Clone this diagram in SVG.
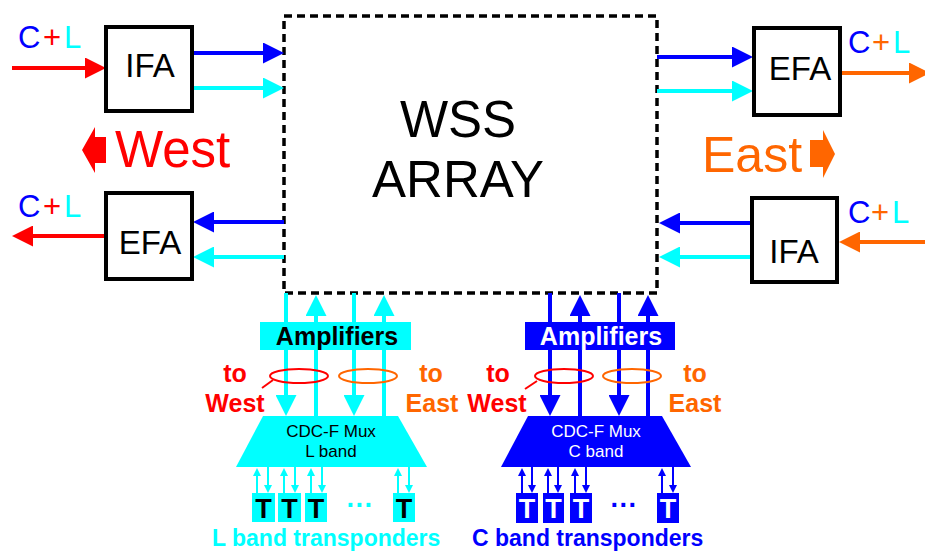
<svg xmlns="http://www.w3.org/2000/svg" width="925" height="552" viewBox="0 0 925 552">
<style>
text{font-family:"Liberation Sans",Arial,sans-serif}
.box{fill:#fff;stroke:#000;stroke-width:4}
.lbl{font-size:33px;fill:#000;text-anchor:middle}
.cl{font-size:31px}
.b{fill:#0000FF}.c{fill:#00FFFF}.r{fill:#FF0000}.o{fill:#FF6600}
.ln{stroke-width:4;fill:none}
.sm{stroke-width:2;fill:none}
.sb{stroke:#0000FF}.sc{stroke:#00FFFF}.sr{stroke:#FF0000}.so{stroke:#FF6600}
.bold{font-weight:bold}
.tt{font-size:25px;font-weight:bold;text-anchor:middle}
.tx{font-size:27px;font-weight:bold;text-anchor:middle}
.mux{font-size:17px;text-anchor:middle}
.el{fill:none;stroke-width:2}
</style>
<defs>
<marker id="ab" viewBox="0 0 21 21" refX="2" refY="10.5" markerWidth="21" markerHeight="21" markerUnits="userSpaceOnUse" orient="auto"><path d="M0,0 L21,10.5 L0,21 z" fill="#0000FF"/></marker>
<marker id="ac" viewBox="0 0 21 21" refX="2" refY="10.5" markerWidth="21" markerHeight="21" markerUnits="userSpaceOnUse" orient="auto"><path d="M0,0 L21,10.5 L0,21 z" fill="#00FFFF"/></marker>
<marker id="ar" viewBox="0 0 21 21" refX="2" refY="10.5" markerWidth="21" markerHeight="21" markerUnits="userSpaceOnUse" orient="auto"><path d="M0,0 L21,10.5 L0,21 z" fill="#FF0000"/></marker>
<marker id="ao" viewBox="0 0 21 21" refX="2" refY="10.5" markerWidth="21" markerHeight="21" markerUnits="userSpaceOnUse" orient="auto"><path d="M0,0 L21,10.5 L0,21 z" fill="#FF6600"/></marker>
<marker id="sb" viewBox="0 0 8 8" refX="1" refY="4" markerWidth="8" markerHeight="8" markerUnits="userSpaceOnUse" orient="auto"><path d="M0,0 L8,4 L0,8 z" fill="#0000FF"/></marker>
<marker id="sc" viewBox="0 0 8 8" refX="1" refY="4" markerWidth="8" markerHeight="8" markerUnits="userSpaceOnUse" orient="auto"><path d="M0,0 L8,4 L0,8 z" fill="#00FFFF"/></marker>
</defs>

<g id="wss">
<rect x="284" y="16" width="373" height="277" fill="#fff" stroke="#000" stroke-width="3.5" stroke-dasharray="8 5"/>
<text x="458" y="137" font-size="51" text-anchor="middle">WSS</text>
<text x="458" y="197" font-size="51" text-anchor="middle">ARRAY</text>
</g>

<g id="connectors">
<line class="ln sr" x1="12" y1="68" x2="87" y2="68" marker-end="url(#ar)"/>
<line class="ln sb" x1="192" y1="53" x2="265" y2="53" marker-end="url(#ab)"/>
<line class="ln sc" x1="192" y1="88" x2="265" y2="88" marker-end="url(#ac)"/>
<line class="ln sb" x1="657" y1="57" x2="734" y2="57" marker-end="url(#ab)"/>
<line class="ln sc" x1="657" y1="91" x2="734" y2="91" marker-end="url(#ac)"/>
<line class="ln so" x1="840" y1="73" x2="911" y2="73" marker-end="url(#ao)"/>
<line class="ln sb" x1="284" y1="222" x2="212" y2="222" marker-end="url(#ab)"/>
<line class="ln sc" x1="284" y1="257" x2="212" y2="257" marker-end="url(#ac)"/>
<line class="ln sr" x1="106" y1="236" x2="31" y2="236" marker-end="url(#ar)"/>
<line class="ln sb" x1="752" y1="223" x2="678" y2="223" marker-end="url(#ab)"/>
<line class="ln sc" x1="752" y1="257" x2="678" y2="257" marker-end="url(#ac)"/>
<line class="ln so" x1="925" y1="242" x2="858" y2="242" marker-end="url(#ao)"/>
<line class="ln sc" x1="286" y1="293" x2="286" y2="397" marker-end="url(#ac)"/>
<line class="ln sc" x1="316" y1="416" x2="316" y2="314" marker-end="url(#ac)"/>
<line class="ln sc" x1="354" y1="293" x2="354" y2="397" marker-end="url(#ac)"/>
<line class="ln sc" x1="384" y1="416" x2="384" y2="314" marker-end="url(#ac)"/>
<line class="ln sb" x1="550" y1="293" x2="550" y2="397" marker-end="url(#ab)"/>
<line class="ln sb" x1="580" y1="416" x2="580" y2="314" marker-end="url(#ab)"/>
<line class="ln sb" x1="619" y1="293" x2="619" y2="397" marker-end="url(#ab)"/>
<line class="ln sb" x1="648" y1="416" x2="648" y2="314" marker-end="url(#ab)"/>
<line class="sm sc" x1="257" y1="493" x2="257" y2="475" marker-end="url(#sc)"/>
<line class="sm sc" x1="268" y1="467" x2="268" y2="486" marker-end="url(#sc)"/>
<line class="sm sc" x1="284" y1="493" x2="284" y2="475" marker-end="url(#sc)"/>
<line class="sm sc" x1="295" y1="467" x2="295" y2="486" marker-end="url(#sc)"/>
<line class="sm sc" x1="311" y1="493" x2="311" y2="475" marker-end="url(#sc)"/>
<line class="sm sc" x1="322" y1="467" x2="322" y2="486" marker-end="url(#sc)"/>
<line class="sm sc" x1="398" y1="493" x2="398" y2="475" marker-end="url(#sc)"/>
<line class="sm sc" x1="409" y1="467" x2="409" y2="486" marker-end="url(#sc)"/>
<line class="sm sb" x1="522" y1="493" x2="522" y2="475" marker-end="url(#sb)"/>
<line class="sm sb" x1="532" y1="467" x2="532" y2="486" marker-end="url(#sb)"/>
<line class="sm sb" x1="548" y1="493" x2="548" y2="475" marker-end="url(#sb)"/>
<line class="sm sb" x1="558" y1="467" x2="558" y2="486" marker-end="url(#sb)"/>
<line class="sm sb" x1="575" y1="493" x2="575" y2="475" marker-end="url(#sb)"/>
<line class="sm sb" x1="586" y1="467" x2="586" y2="486" marker-end="url(#sb)"/>
<line class="sm sb" x1="662" y1="493" x2="662" y2="475" marker-end="url(#sb)"/>
<line class="sm sb" x1="673" y1="467" x2="673" y2="486" marker-end="url(#sb)"/>
</g>

<g id="ifa-west">
<rect class="box" x="106" y="27" width="86" height="84"/>
<text class="lbl" x="150" y="77">IFA</text>
</g>
<g id="efa-west">
<rect class="box" x="106" y="193" width="86" height="86"/>
<text class="lbl" x="150" y="254">EFA</text>
</g>
<g id="efa-east">
<rect class="box" x="754" y="28" width="86" height="87"/>
<text class="lbl" x="800" y="80">EFA</text>
</g>
<g id="ifa-east">
<rect class="box" x="752" y="198" width="85" height="84"/>
<text class="lbl" x="794" y="263">IFA</text>
</g>

<g id="cl-labels">
<text class="cl" y="48"><tspan class="b" x="18">C</tspan><tspan class="r" x="43">+</tspan><tspan class="c" x="64">L</tspan></text>
<text class="cl" y="217"><tspan class="b" x="18">C</tspan><tspan class="r" x="43">+</tspan><tspan class="c" x="64">L</tspan></text>
<text class="cl" y="53"><tspan class="b" x="848">C</tspan><tspan class="o" x="872">+</tspan><tspan class="c" x="893">L</tspan></text>
<text class="cl" y="223"><tspan class="b" x="848">C</tspan><tspan class="o" x="871">+</tspan><tspan class="c" x="892">L</tspan></text>
</g>

<g id="west">
<polygon class="r" points="82,150 95,127 95,137 106,137 106,163 95,163 95,173"/>
<text class="r" x="115" y="167" font-size="51">West</text>
</g>
<g id="east">
<polygon class="o" points="810,140 823,140 823,130 835,154 823,178 823,167 810,167"/>
<text class="o" x="702" y="172" font-size="50">East</text>
</g>

<g id="amp-l">
<rect x="260" y="322" width="151" height="28" fill="#00FFFF"/>
<text class="tt" x="337" y="345" fill="#000">Amplifiers</text>
</g>
<g id="amp-c">
<rect x="525" y="322" width="150" height="28" fill="#0000FF"/>
<text class="tt" x="601" y="345" fill="#fff">Amplifiers</text>
</g>

<g id="groups-l">
<ellipse class="el sr" cx="299" cy="376" rx="29" ry="7"/>
<line class="sr" stroke-width="2" x1="262" y1="388" x2="273" y2="380"/>
<ellipse class="el so" cx="368" cy="376" rx="29" ry="7"/>
<text class="tt r" x="235" y="382">to</text>
<text class="tt r" x="235" y="412">West</text>
<text class="tt o" x="431" y="382">to</text>
<text class="tt o" x="432" y="412">East</text>
</g>
<g id="groups-c">
<ellipse class="el sr" cx="564" cy="376" rx="29" ry="7"/>
<line class="sr" stroke-width="2" x1="525" y1="389" x2="537" y2="381"/>
<ellipse class="el so" cx="632" cy="376" rx="29" ry="7"/>
<text class="tt r" x="498" y="382">to</text>
<text class="tt r" x="497" y="412">West</text>
<text class="tt o" x="695" y="382">to</text>
<text class="tt o" x="695" y="412">East</text>
</g>

<g id="mux-l">
<polygon class="c" points="263,416 398,416 427,467 236,467"/>
<text class="mux" x="331" y="437" fill="#000">CDC-F Mux</text>
<text class="mux" x="331" y="457" fill="#000">L band</text>
</g>
<g id="mux-c">
<polygon class="b" points="528,416 662,416 691,467 501,467"/>
<text class="mux" x="596" y="437" fill="#fff">CDC-F Mux</text>
<text class="mux" x="596" y="457" fill="#fff">C band</text>
</g>

<g id="trx-l">
<rect class="c" x="252" y="493" width="23" height="29"/><text class="tx" x="263.5" y="518">T</text>
<rect class="c" x="278" y="493" width="23" height="29"/><text class="tx" x="289.5" y="518">T</text>
<rect class="c" x="305" y="493" width="22" height="29"/><text class="tx" x="316" y="518">T</text>
<rect class="c" x="393" y="493" width="22" height="29"/><text class="tx" x="404" y="518">T</text>
<text class="tx c" x="360" y="514">···</text>
<text class="c bold" x="212" y="546" font-size="23">L band transponders</text>
</g>
<g id="trx-c">
<rect class="b" x="516" y="493" width="22" height="30"/><text class="tx" x="527" y="518" fill="#fff">T</text>
<rect class="b" x="543" y="493" width="21" height="30"/><text class="tx" x="553.5" y="518" fill="#fff">T</text>
<rect class="b" x="570" y="493" width="22" height="30"/><text class="tx" x="581" y="518" fill="#fff">T</text>
<rect class="b" x="657" y="493" width="22" height="30"/><text class="tx" x="668" y="518" fill="#fff">T</text>
<text class="tx b" x="624" y="514">···</text>
<text class="b bold" x="472" y="546" font-size="23">C band transponders</text>
</g>
</svg>
